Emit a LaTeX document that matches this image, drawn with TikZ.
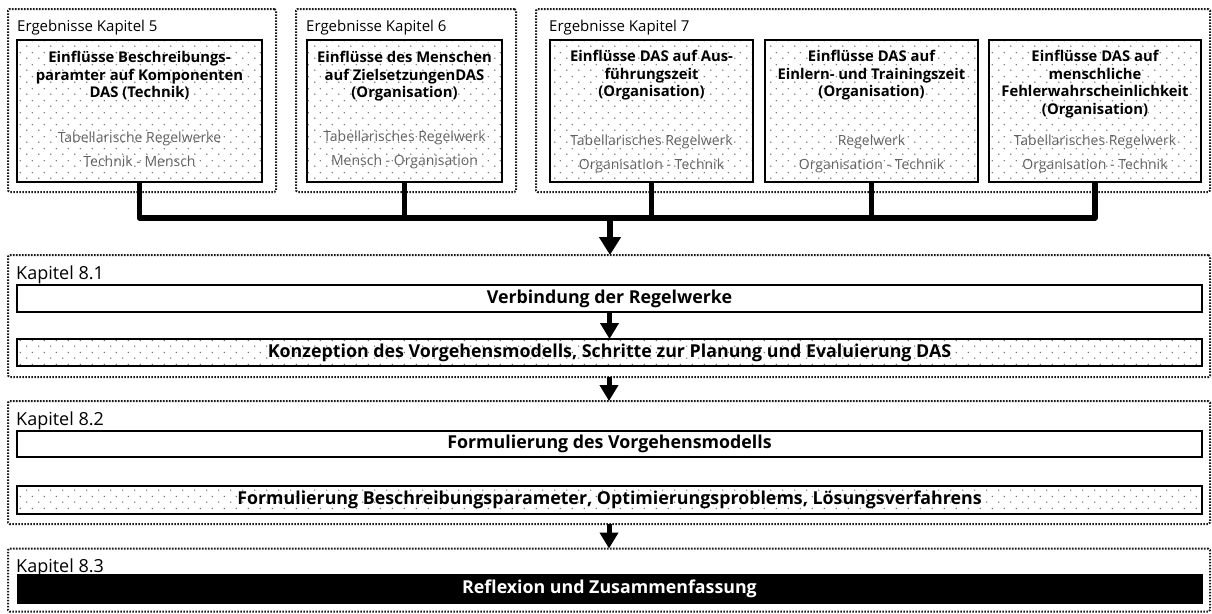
\documentclass[tikz,border=0pt]{standalone}
\usepackage{fontspec}
\setmainfont{Open Sans}
\usetikzlibrary{arrows.meta,patterns.meta}

% staggered dot raster used as box fill
\tikzdeclarepattern{
  name=dotgrid,
  type=uncolored,
  bounding box={(0pt,0pt) and (12pt,12pt)},
  tile size={(12pt,12pt)},
  code={
    \fill (3pt,3pt) circle (0.85pt);
    \fill (9pt,9pt) circle (0.85pt);
  }
}

\newcommand\fsz[2]{\fontsize{#1}{#2}\selectfont}

\tikzset{
  chapter/.style={draw=black!90, line width=2pt, dash pattern=on 1.6pt off 1.4pt,
    rounded corners=1.5pt, inner sep=0pt, outer sep=0pt},
  result/.style={draw=black, line width=2.4pt, pattern=dotgrid, pattern color=black!55,
    inner sep=0pt, outer sep=0pt},
  plainbar/.style={draw=black, line width=2.4pt, fill=white, inner sep=0pt, outer sep=0pt,
    font=\fsz{17.8}{20}\bfseries},
  dotbar/.style={plainbar, pattern=dotgrid, pattern color=black!55},
  blackbar/.style={draw=black, line width=1pt, fill=black, text=white, inner sep=0pt,
    outer sep=0pt, font=\fsz{17.8}{20}\bfseries},
  heading/.style={anchor=base west, inner sep=0pt, font=\fsz{15}{18}},
  chaplabel/.style={anchor=base west, inner sep=0pt, font=\fsz{18}{21}},
  boxtitle/.style={anchor=north, inner sep=0pt, align=center, font=\fsz{14.8}{17.7}\bfseries},
  boxnote/.style={anchor=center, inner sep=0pt, align=center, text=black!62, font=\fsz{14}{24}},
  bus/.style={line width=5.5pt, draw=black},
  bigarrow/.style={line width=5.5pt, draw=black, -{Triangle[width=21pt,length=18pt]}},
  smallarrow/.style={line width=5pt, draw=black, -{Triangle[width=18pt,length=16pt]}},
}

\begin{document}
\begin{tikzpicture}[x=1pt,y=-1pt]
\useasboundingbox (0,0) rectangle (1212,613);

% ---- result groups of chapters 5, 6 and 7
\node[chapter, minimum width=268pt, minimum height=183pt] (o5) at (142,100.5) {};
\node[chapter, minimum width=220pt, minimum height=183pt] (o6) at (406,100.5) {};
\node[chapter, minimum width=674pt, minimum height=183pt] (o7) at (873,100.5) {};

\node[heading] (h5) at (17,31.5) {Ergebnisse Kapitel 5};
\node[heading] (h6) at (306,31.5) {Ergebnisse Kapitel 6};
\node[heading] (h7) at (549,31.5) {Ergebnisse Kapitel 7};

\node[result, minimum width=245pt, minimum height=142pt] (i5)  at (139.5,111) {};
\node[result, minimum width=195pt, minimum height=142pt] (i6)  at (404.5,111) {};
\node[result, minimum width=203pt, minimum height=142pt] (i7a) at (651.5,111) {};
\node[result, minimum width=213pt, minimum height=142pt] (i7b) at (871.5,111) {};
\node[result, minimum width=212pt, minimum height=142pt] (i7c) at (1095,111) {};

\node[boxtitle] (t5)  at (i5.north  |- 0,51) {Einflüsse Beschreibungs-\\paramter auf Komponenten\\DAS (Technik)};
\node[boxtitle] (t6)  at (i6.north  |- 0,51) {Einflüsse des Menschen\\auf ZielsetzungenDAS\\(Organisation)};
\node[boxtitle] (t7a) at (i7a.north |- 0,50) {Einflüsse DAS auf Aus-\\führungszeit\\(Organisation)};
\node[boxtitle] (t7b) at (i7b.north |- 0,50) {Einflüsse DAS auf\\Einlern- und Trainingszeit\\(Organisation)};
\node[boxtitle] (t7c) at (i7c.north |- 0,50) {Einflüsse DAS auf\\menschliche\\Fehlerwahrscheinlichkeit\\(Organisation)};

\node[boxnote] (n5)  at (i5.center  |- 0,149.5) {Tabellarische Regelwerke\\Technik - Mensch};
\node[boxnote] (n6)  at (i6.center  |- 0,149.5) {Tabellarisches Regelwerk\\Mensch - Organisation};
\node[boxnote] (n7a) at (i7a.center |- 0,154) {Tabellarisches Regelwerk\\Organisation - Technik};
\node[boxnote] (n7b) at (i7b.center |- 0,154) {Regelwerk\\Organisation - Technik};
\node[boxnote] (n7c) at (i7c.center |- 0,154) {Tabellarisches Regelwerk\\Organisation - Technik};

% ---- chapter 8.1
\node[chapter, minimum width=1202pt, minimum height=122pt] (k81) at (609,316) {};
\node[chaplabel] (l81) at (16,279) {Kapitel 8.1};
\node[plainbar, minimum width=1185pt, minimum height=27pt] (b11) at (609.5,298.5) {Verbindung der Regelwerke};
\node[dotbar, minimum width=1185pt, minimum height=27pt] (b12) at (609.5,352.5) {Konzeption des Vorgehensmodells, Schritte zur Planung und Evaluierung DAS};

% ---- chapter 8.2
\node[chapter, minimum width=1202pt, minimum height=123pt] (k82) at (609,462.5) {};
\node[chaplabel] (l82) at (16,425) {Kapitel 8.2};
\node[plainbar, minimum width=1185pt, minimum height=26pt] (b21) at (609.5,444) {Formulierung des Vorgehensmodells};
\node[dotbar, minimum width=1185pt, minimum height=28pt] (b22) at (609.5,500) {Formulierung Beschreibungsparameter, Optimierungsproblems, Lösungsverfahrens};

% ---- chapter 8.3
\node[chapter, minimum width=1202pt, minimum height=63pt] (k83) at (609,580) {};
\node[chaplabel] (l83) at (16,572) {Kapitel 8.3};
\node[blackbar, minimum width=1185pt, minimum height=29pt] (b31) at (609.5,588.5) {Reflexion und Zusammenfassung};

% ---- collecting bus from the result boxes
\coordinate (hub) at (610,218);
\draw[bus, line join=round] (i5.south) |- (hub) -| (i7c.south);
\draw[bus] (i6.south)  -- (i6.south  |- hub);
\draw[bus] (i7a.south) -- (i7a.south |- hub);
\draw[bus] (i7b.south) -- (i7b.south |- hub);
\draw[bigarrow] (hub) -- (hub |- k81.north);

% ---- flow between the chapter 8 blocks
\draw[smallarrow] (b11.south) -- (b12.north);
\draw[smallarrow] (k81.south) -- (k82.north);
\draw[smallarrow] (k82.south) -- (k83.north);
\end{tikzpicture}
\end{document}
